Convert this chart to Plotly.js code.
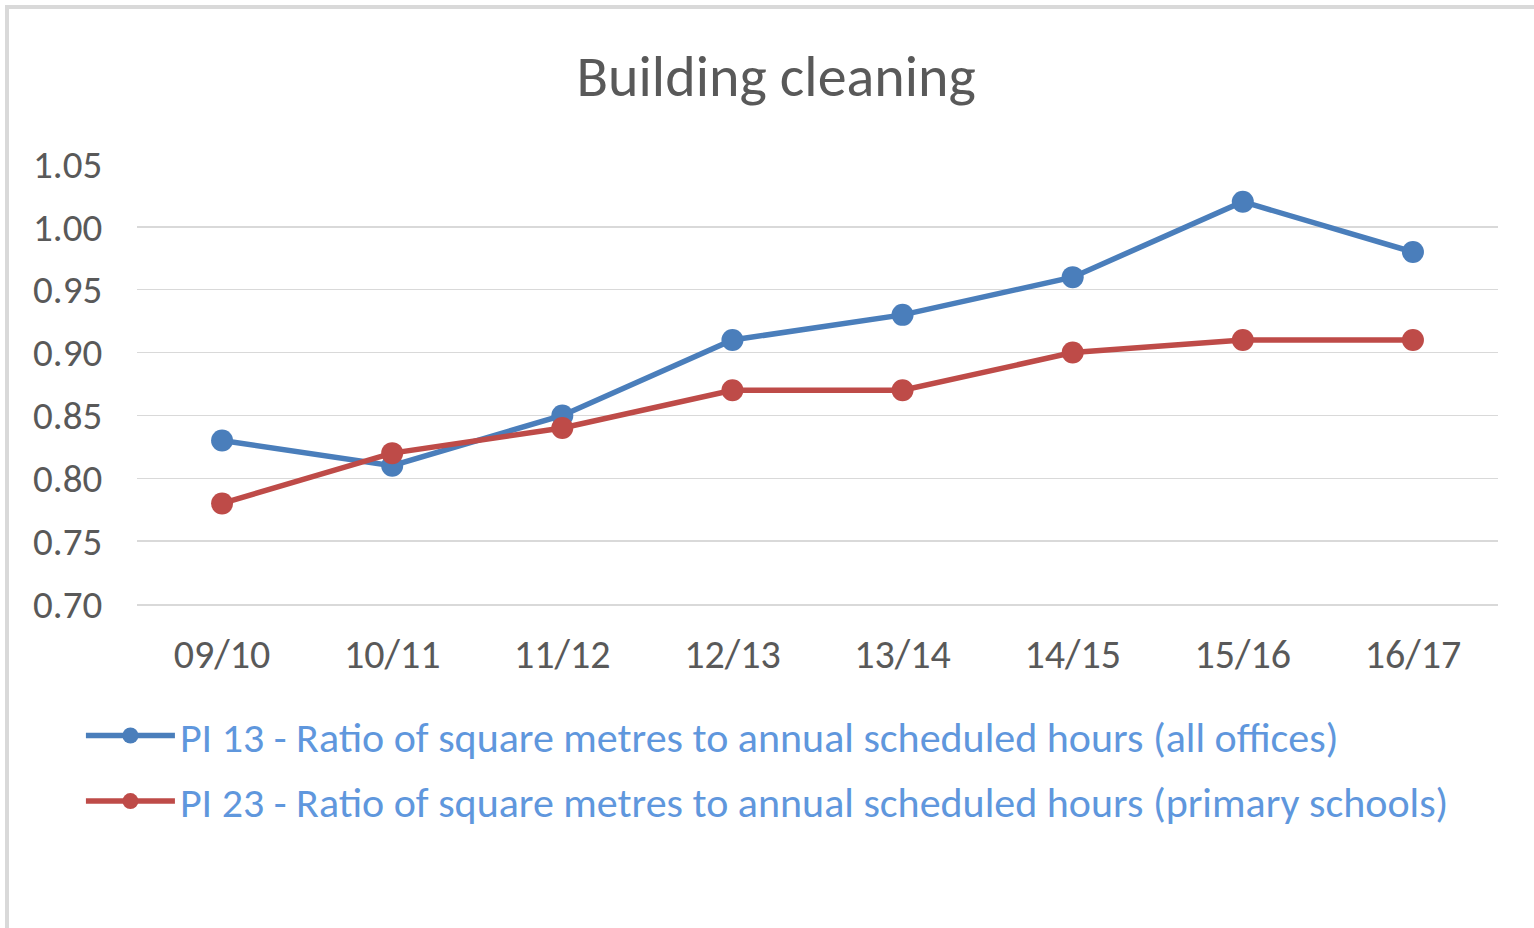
<!DOCTYPE html>
<html>
<head>
<meta charset="utf-8">
<script src="https://cdn.plot.ly/plotly-3.0.1.min.js"></script>
<style>
  html, body { margin: 0; padding: 0; background: #fff; }
  #wrap { position: relative; width: 1534px; height: 928px; }
  #chart { position: absolute; left: 0; top: 0; width: 1534px; height: 928px; }
  #frame { position: absolute; left: 5px; top: 5px; width: 1529px; height: 923px;
           border-left: 4px solid #d9d9d9; border-top: 4px solid #d9d9d9; pointer-events: none; }
</style>
</head>
<body>
<div id="wrap">
  <div id="chart"></div>
  <div id="frame"></div>
</div>
<script>
const categories = ["09/10", "10/11", "11/12", "12/13", "13/14", "14/15", "15/16", "16/17"];
const seriesNames = [
  "PI 13 - Ratio of square metres to annual scheduled hours (all offices)",
  "PI 23 - Ratio of square metres to annual scheduled hours (primary schools)"
];
const pi13 = [0.83, 0.81, 0.85, 0.91, 0.93, 0.96, 1.02, 0.98];
const pi23 = [0.78, 0.82, 0.84, 0.87, 0.87, 0.90, 0.91, 0.91];
const yTicks = [0.70, 0.75, 0.80, 0.85, 0.90, 0.95, 1.00, 1.05];

const fontFam = "Carlito, Calibri, Lato, 'Open Sans', sans-serif";

const traces = [
  { x: categories, y: pi13, name: seriesNames[0], type: "scatter", mode: "lines+markers", legendgroup: "a",
    line: { color: "#4a7ebb", width: 5.5 }, marker: { color: "#4a7ebb", size: 22 } },
  { x: categories, y: pi23, name: seriesNames[1], type: "scatter", mode: "lines+markers", legendgroup: "b",
    line: { color: "#be4b48", width: 5.5 }, marker: { color: "#be4b48", size: 22 } }
];

const layout = {
  width: 1534, height: 928,
  margin: { l: 137, r: 36, t: 164, b: 324, autoexpand: false },
  paper_bgcolor: "#ffffff", plot_bgcolor: "#ffffff",
  font: { family: fontFam, color: "#595959" },
  title: { text: "Building cleaning", font: { size: 58, color: "#595959", family: fontFam },
           x: 0.506, xref: "container", xanchor: "center", y: 0.918, yref: "container", yanchor: "middle" },
  xaxis: { type: "category", tickvals: categories, ticktext: categories, automargin: false, tickangle: 0,
           showgrid: false, zeroline: false, showline: true, linecolor: "#d9d9d9", linewidth: 1.5,
           ticks: "outside", ticklen: 14, tickcolor: "rgba(0,0,0,0)",
           tickfont: { size: 40, color: "#595959" }, range: [-0.5, 7.5] },
  yaxis: { range: [0.70, 1.05], tickvals: yTicks, tickformat: ".2f", automargin: false,
           showgrid: true, gridcolor: "#d9d9d9", gridwidth: 1.5, zeroline: false, showline: false,
           ticks: "outside", ticklen: 26, tickcolor: "rgba(0,0,0,0)",
           tickfont: { size: 39, color: "#595959" } },
  showlegend: true,
  legend: { orientation: "v", xref: "paper", yref: "paper", x: -0.0412, xanchor: "left",
            y: -0.222, yanchor: "top", font: { size: 42, color: "#5f97dd", family: fontFam },
            itemwidth: 89, bgcolor: "rgba(0,0,0,0)", tracegroupgap: 8 }
};

Plotly.newPlot("chart", traces, layout, { displayModeBar: false, staticPlot: true });
</script>
</body>
</html>
